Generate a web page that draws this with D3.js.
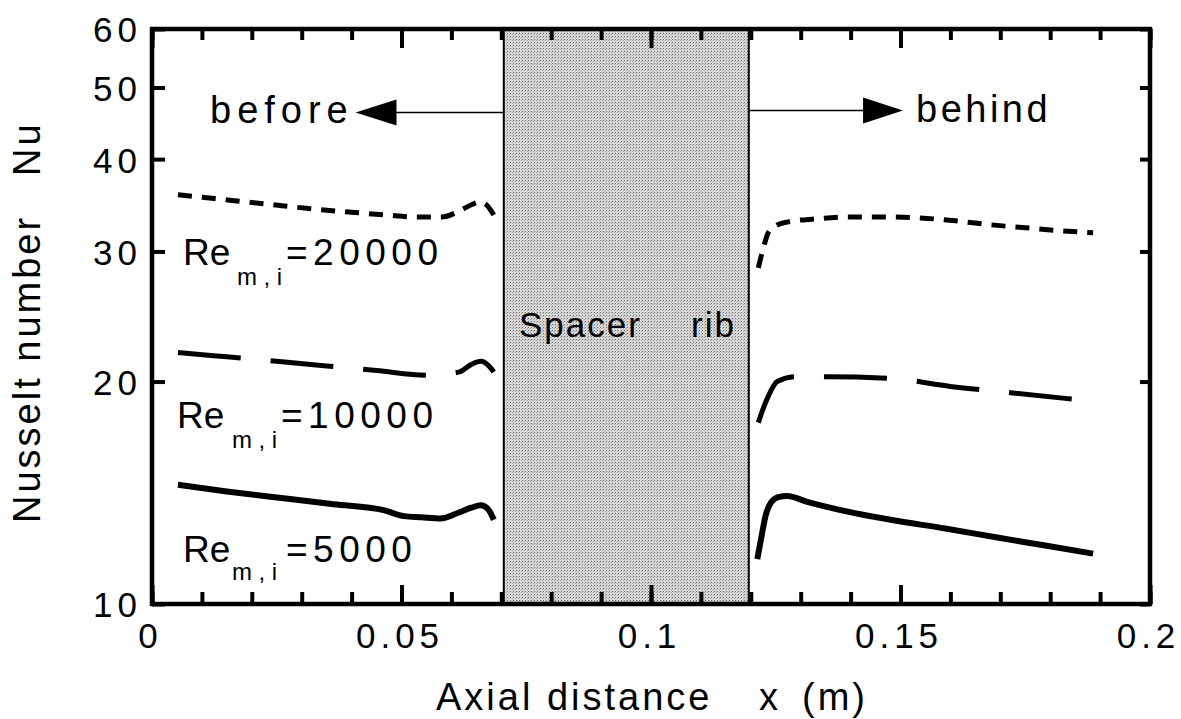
<!DOCTYPE html>
<html>
<head>
<meta charset="utf-8">
<script src="https://cdn.jsdelivr.net/npm/d3@7"></script>
<style>
  body { margin: 0; background: #fff; }
  svg text { font-family: "Liberation Sans", Arial, sans-serif; fill: #000; }
</style>
</head>
<body>
<div id="chart"></div>
<script>
// values

var ribRange = [0.0705, 0.1196];

var xMajorTicks = [0, 0.05, 0.1, 0.15, 0.2];
var xTickLabels = ["0", "0.05", "0.1", "0.15", "0.2"];
var yTicks = [10, 20, 30, 40, 50, 60];
var yTickLabels = ["10", "20", "30", "40", "50", "60"];

// Re = 20000
var x20kBefore = [0.0052, 0.012, 0.019, 0.026, 0.033, 0.040, 0.047, 0.053, 0.058, 0.0615, 0.064, 0.0658, 0.0672, 0.0685];
var nu20kBefore = [35.8, 35.4, 35.0, 34.6, 34.2, 33.9, 33.6, 33.4, 33.4, 34.0, 34.7, 35.0, 34.6, 33.6];
var x20kBehind = [0.1215, 0.1225, 0.1235, 0.125, 0.1275, 0.133, 0.140, 0.147, 0.154, 0.161, 0.168, 0.175, 0.182, 0.1886];
var nu20kBehind = [28.5, 30.3, 31.8, 32.5, 32.9, 33.2, 33.4, 33.4, 33.3, 33.0, 32.6, 32.3, 32.0, 31.8];

// Re = 10000
var x10kBefore = [0.0052, 0.015, 0.025, 0.035, 0.045, 0.0555, 0.0615, 0.064, 0.0659, 0.0675, 0.0685];
var nu10kBefore = [21.9, 21.6, 21.3, 21.0, 20.7, 20.4, 20.6, 21.1, 21.3, 21.0, 20.6];
var x10kBehind = [0.1215, 0.1225, 0.1235, 0.1253, 0.129, 0.135, 0.148, 0.160, 0.1725, 0.1856];
var nu10kBehind = [17.6, 18.4, 19.1, 20.0, 20.3, 20.3, 20.2, 19.7, 19.3, 18.9];

// Re = 5000
var x5kBefore = [0.0052, 0.015, 0.0264, 0.0364, 0.0464, 0.0505, 0.054, 0.0578, 0.0615, 0.064, 0.0659, 0.0675, 0.0685];
var nu5kBefore = [14.5, 14.2, 13.9, 13.65, 13.4, 13.15, 13.1, 13.05, 13.3, 13.5, 13.6, 13.4, 13.0];
var x5kBehind = [0.1213, 0.1222, 0.123, 0.124, 0.1255, 0.1273, 0.1313, 0.138, 0.148, 0.159, 0.1694, 0.179, 0.1886];
var nu5kBehind = [11.5, 12.4, 13.2, 13.7, 13.95, 14.0, 13.75, 13.4, 13.0, 12.65, 12.3, 12.0, 11.7];

// SVG container

var svgWidth = 1181;
var svgHeight = 719;

var svg = d3.select("#chart")
    .append("svg")
    .attr("width", svgWidth)
    .attr("height", svgHeight);

var xScale = d3.scaleLinear().domain([0, 0.2]).range([152, 1150]);
var yScale = d3.scaleLog().domain([10, 60]).range([604, 29]);

// stipple pattern for the rib
var pat = svg.append("defs").append("pattern")
    .attr("id", "stipple")
    .attr("width", 3).attr("height", 3)
    .attr("patternUnits", "userSpaceOnUse");
pat.append("rect").attr("width", 3).attr("height", 3).attr("fill", "#d6d6d6");
pat.append("rect").attr("width", 1).attr("height", 1).attr("fill", "#707070");
pat.append("rect").attr("x", 2).attr("y", 1).attr("width", 1).attr("height", 1).attr("fill", "#a8a8a8");

svg.append("rect")
    .attr("x", xScale(ribRange[0]))
    .attr("y", yScale(60))
    .attr("width", xScale(ribRange[1]) - xScale(ribRange[0]))
    .attr("height", yScale(10) - yScale(60))
    .attr("fill", "url(#stipple)");

ribRange.forEach(function (r) {
    svg.append("line")
        .attr("x1", xScale(r)).attr("x2", xScale(r))
        .attr("y1", yScale(60)).attr("y2", yScale(10))
        .attr("stroke", "#000")
        .attr("stroke-width", 2);
});

// curves

var series = [
    { x: x20kBefore, nu: nu20kBefore, w: 5, dash: "14,10" },
    { x: x20kBehind, nu: nu20kBehind, w: 5, dash: "14,10" },
    { x: x10kBefore, nu: nu10kBefore, w: 5, dash: "63,30" },
    { x: x10kBehind, nu: nu10kBehind, w: 5, dash: "63,30" },
    { x: x5kBefore, nu: nu5kBefore, w: 6, dash: null },
    { x: x5kBehind, nu: nu5kBehind, w: 6, dash: null }
];

var line = d3.line()
    .x(d => xScale(d[0]))
    .y(d => yScale(d[1]))
    .curve(d3.curveMonotoneX);

series.forEach(function (s) {
    var pts = s.x.map((v, i) => [v, s.nu[i]]);
    svg.append("path")
        .datum(pts)
        .attr("d", line)
        .attr("fill", "none")
        .attr("stroke", "#000")
        .attr("stroke-width", s.w)
        .attr("stroke-dasharray", s.dash)
        .attr("stroke-linejoin", "round");
});

// axes with inward ticks

function clean(g) {
    g.select(".domain").remove();
    g.selectAll(".tick line").attr("stroke", "#000").attr("stroke-width", 4);
}

svg.append("g")
    .attr("transform", `translate(0, ${yScale(10)})`)
    .call(d3.axisBottom(xScale).ticks(20).tickSize(-12).tickFormat(""))
    .call(clean);

var bottomMajor = svg.append("g")
    .attr("transform", `translate(0, ${yScale(10)})`)
    .call(d3.axisBottom(xScale).tickValues(xMajorTicks).tickSize(-19).tickPadding(19)
        .tickFormat((d, i) => xTickLabels[i]))
    .call(clean);

bottomMajor.selectAll("text")
    .attr("font-size", 35)
    .attr("letter-spacing", 5)
    .attr("dx", -2)
    .style("font-family", "'Liberation Sans', Arial, sans-serif");

svg.append("g")
    .attr("transform", `translate(0, ${yScale(60)})`)
    .call(d3.axisTop(xScale).ticks(20).tickSize(-11).tickFormat(""))
    .call(clean);

svg.append("g")
    .attr("transform", `translate(0, ${yScale(60)})`)
    .call(d3.axisTop(xScale).tickValues(xMajorTicks).tickSize(-19).tickFormat(""))
    .call(clean);

var leftAxis = svg.append("g")
    .attr("transform", `translate(${xScale(0)}, 0)`)
    .call(d3.axisLeft(yScale).tickValues(yTicks).tickSize(-13).tickPadding(10)
        .tickFormat((d, i) => yTickLabels[i]))
    .call(clean);

leftAxis.selectAll("text")
    .attr("font-size", 35)
    .attr("letter-spacing", 5)
    .attr("dy", "0.37em")
    .style("font-family", "'Liberation Sans', Arial, sans-serif");

svg.append("g")
    .attr("transform", `translate(${xScale(0.2)}, 0)`)
    .call(d3.axisRight(yScale).tickValues(yTicks).tickSize(-10).tickFormat(""))
    .call(clean);

// frame
svg.append("rect")
    .attr("x", xScale(0))
    .attr("y", yScale(60))
    .attr("width", xScale(0.2) - xScale(0))
    .attr("height", yScale(10) - yScale(60))
    .attr("fill", "none")
    .attr("stroke", "#000")
    .attr("stroke-width", 4.5);

// arrows before / behind

var arrowNu = 46.4;

svg.append("line")
    .attr("x1", xScale(0.0445)).attr("x2", xScale(ribRange[0]))
    .attr("y1", yScale(arrowNu) + 1).attr("y2", yScale(arrowNu) + 1)
    .attr("stroke", "#000").attr("stroke-width", 1.6);
svg.append("path")
    .attr("d", d3.line()([
        [xScale(0.0408), yScale(arrowNu) + 1],
        [xScale(0.0490), yScale(arrowNu) - 12],
        [xScale(0.0490), yScale(arrowNu) + 14]
    ]) + "Z")
    .attr("fill", "#000");

svg.append("line")
    .attr("x1", xScale(ribRange[1])).attr("x2", xScale(0.1440))
    .attr("y1", yScale(arrowNu) - 1).attr("y2", yScale(arrowNu) - 1)
    .attr("stroke", "#000").attr("stroke-width", 1.6);
svg.append("path")
    .attr("d", d3.line()([
        [xScale(0.1505), yScale(arrowNu) - 1],
        [xScale(0.1425), yScale(arrowNu) - 14],
        [xScale(0.1425), yScale(arrowNu) + 12]
    ]) + "Z")
    .attr("fill", "#000");

// annotations

svg.append("text")
    .attr("x", 210).attr("y", 123)
    .attr("font-size", 38).attr("letter-spacing", 6)
    .text("before");

svg.append("text")
    .attr("x", 916).attr("y", 122)
    .attr("font-size", 38).attr("letter-spacing", 3.5)
    .text("behind");

var spacer = svg.append("text")
    .attr("y", 337)
    .attr("font-size", 35).attr("letter-spacing", 2);
spacer.append("tspan").attr("x", 519).text("Spacer");
spacer.append("tspan").attr("x", 691).text("rib");

// Re labels
var reLabels = [
    { text: "=20000", re: [183, 265], sub: [237, 285], eq: 286 },
    { text: "=10000", re: [177, 428], sub: [232, 448], eq: 281 },
    { text: "=5000", re: [183, 562], sub: [232, 580], eq: 286 }
];

reLabels.forEach(function (l) {
    svg.append("text")
        .attr("x", l.re[0]).attr("y", l.re[1])
        .attr("font-size", 37)
        .text("Re");
    svg.append("text")
        .attr("x", l.sub[0]).attr("y", l.sub[1])
        .attr("font-size", 24).attr("letter-spacing", 6.5)
        .text("m,i");
    svg.append("text")
        .attr("x", l.eq).attr("y", l.re[1])
        .attr("font-size", 37).attr("letter-spacing", 5.5)
        .text(l.text);
});

// axis titles

var xTitle = svg.append("text")
    .attr("y", 710)
    .attr("font-size", 38).attr("letter-spacing", 3);
xTitle.append("tspan").attr("x", 436).text("Axial distance");
xTitle.append("tspan").attr("x", 759).text("x");
xTitle.append("tspan").attr("x", 802).text("(m)");

var yTitle = svg.append("text")
    .attr("transform", "translate(40, 523) rotate(-90)")
    .attr("font-size", 38).attr("letter-spacing", 3);
yTitle.append("tspan").attr("x", 0).text("Nusselt number");
yTitle.append("tspan").attr("x", 347).text("Nu");
</script>
</body>
</html>
